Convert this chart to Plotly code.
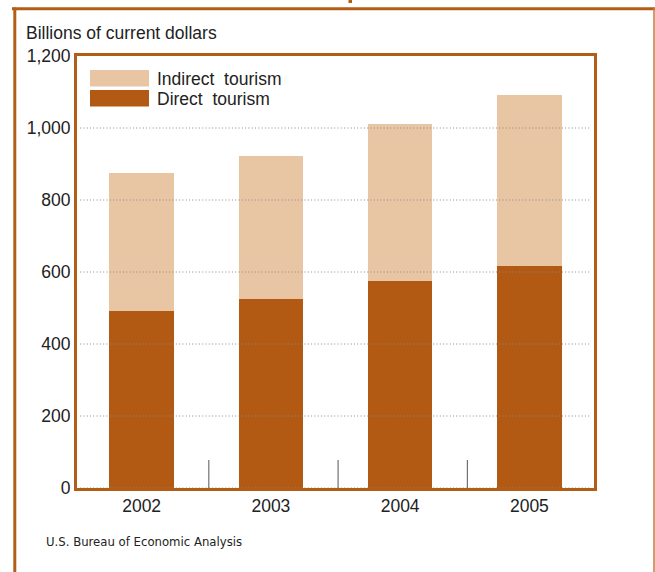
import plotly.graph_objects as go

years = ["2002", "2003", "2004", "2005"]
direct = [493, 524, 574, 618]
indirect = [382, 398, 437, 474]
y_ticks = [0, 200, 400, 600, 800, 1000, 1200]

W, H = 655, 572
ML, MR, MT, MB = 77, 61, 56, 84
PW, PH = W - ML - MR, H - MT - MB

def px(x):
    return (x - ML) / PW

def py(y):
    return (H - MB - y) / PH

ORANGE = "#B25A14"
LIGHT = "#E8C5A3"
BORDER = "#B35E17"
TXT = "#222222"
FONT = "Liberation Sans, Arial, Helvetica, sans-serif"
FS = 17.5

fig = go.Figure()
fig.add_trace(go.Bar(x=years, y=direct, name="Direct tourism", marker_color=ORANGE,
                     marker_line_width=0, width=0.5, showlegend=False))
fig.add_trace(go.Bar(x=years, y=indirect, name="Indirect tourism", marker_color=LIGHT,
                     marker_line_width=0, width=0.5, showlegend=False))

shapes = []
# dotted gridlines above bars
for v in y_ticks[:-1]:
    shapes.append(dict(type="line", xref="paper", yref="y", x0=0.006, x1=0.994, y0=v, y1=v,
                       line=dict(color="#8a8a8a", width=1, dash="1px,2.3px"), layer="above"))
# category separators
for i in range(len(years) - 1):
    shapes.append(dict(type="line", xref="x", yref="y", x0=i + 0.52, x1=i + 0.52,
                       ysizemode="pixel", yanchor=0, y0=0, y1=28,
                       line=dict(color="#555555", width=1), layer="above"))
# outer frame
shapes.append(dict(type="line", xref="paper", yref="paper", x0=px(12), x1=px(655), y0=py(8.8), y1=py(8.8),
                   line=dict(color=BORDER, width=3), layer="above"))
shapes.append(dict(type="line", xref="paper", yref="paper", x0=px(14.8), x1=px(14.8), y0=py(7.5), y1=py(580),
                   line=dict(color=BORDER, width=3), layer="above"))
shapes.append(dict(type="line", xref="paper", yref="paper", x0=px(654), x1=px(654), y0=py(8), y1=py(580),
                   line=dict(color="#C87A3A", width=1.5), layer="above"))
# fragment of cut-off title
shapes.append(dict(type="rect", xref="paper", yref="paper", x0=px(348.5), x1=px(352), y0=py(0), y1=py(3),
                   fillcolor=BORDER, line_width=0, layer="above"))
# legend swatches
shapes.append(dict(type="rect", xref="paper", yref="paper", x0=px(90), x1=px(149), y0=py(70), y1=py(86.5),
                   fillcolor=LIGHT, line_width=0, layer="above"))
shapes.append(dict(type="rect", xref="paper", yref="paper", x0=px(90), x1=px(149), y0=py(90), y1=py(106.5),
                   fillcolor=ORANGE, line_width=0, layer="above"))

annotations = [
    dict(text="Indirect  tourism", xref="paper", yref="paper", x=px(155), y=py(78.5),
         xanchor="left", yanchor="middle", showarrow=False, font=dict(size=FS, color=TXT, family=FONT)),
    dict(text="Direct  tourism", xref="paper", yref="paper", x=px(155), y=py(98.5),
         xanchor="left", yanchor="middle", showarrow=False, font=dict(size=FS, color=TXT, family=FONT)),
    dict(text="Billions of current dollars", xref="paper", yref="paper", x=px(24), y=py(32.5),
         xanchor="left", yanchor="middle", showarrow=False, font=dict(size=FS, color=TXT, family=FONT)),
    dict(text="U.S. Bureau of Economic Analysis", xref="paper", yref="paper", x=px(44), y=py(541),
         xanchor="left", yanchor="middle", showarrow=False,
         font=dict(size=13, color=TXT, family="Liberation Sans Narrow, Arial Narrow, DejaVu Sans Condensed, sans-serif")),
]

fig.update_layout(
    width=W, height=H, margin=dict(l=ML, r=MR, t=MT, b=MB),
    paper_bgcolor="white", plot_bgcolor="white",
    barmode="stack", showlegend=False,
    font=dict(family=FONT, size=FS, color=TXT),
    shapes=shapes, annotations=annotations,
    xaxis=dict(type="category", showline=True, linecolor=BORDER, linewidth=3, mirror=True,
               showgrid=False, ticks="", tickfont=dict(size=FS, color=TXT), range=[-0.5, 3.5]),
    yaxis=dict(range=[0, 1200], tickvals=y_ticks, tickformat=",", showline=True, linecolor=BORDER,
               linewidth=3, mirror=True, showgrid=False, zeroline=False, ticks="",
               tickfont=dict(size=FS, color=TXT)),
)

fig.write_html("out.html", config={"displayModeBar": False},
               post_script="document.body.style.margin='0';")
